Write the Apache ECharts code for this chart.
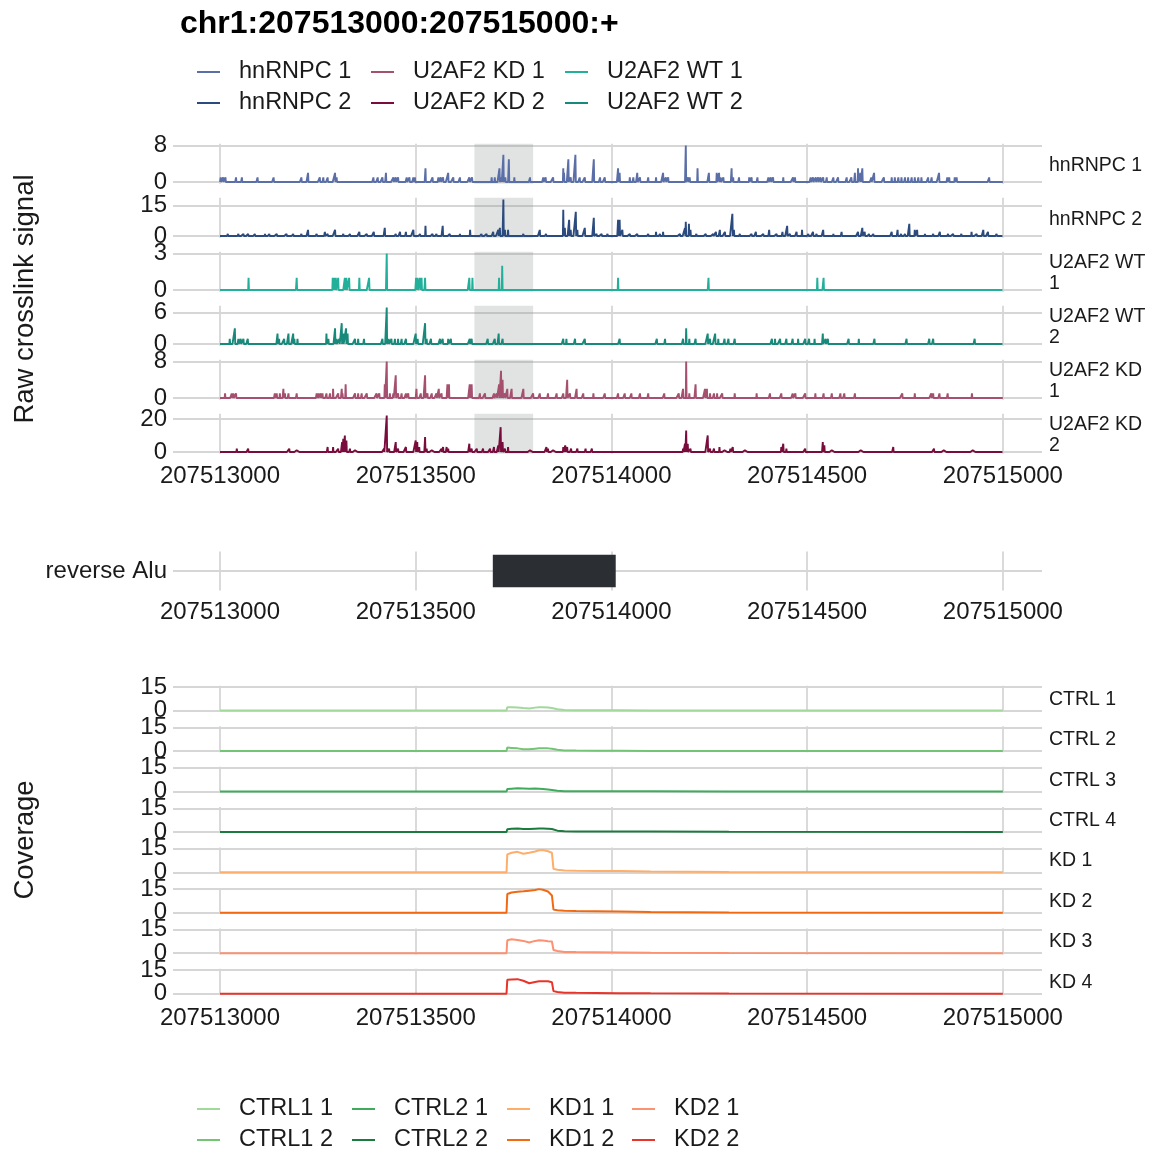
<!DOCTYPE html>
<html><head><meta charset="utf-8">
<script src="https://cdn.jsdelivr.net/npm/echarts@6/dist/echarts.min.js"></script>
<style>html,body{margin:0;padding:0;background:#fff}#c{width:1154px;height:1153px}</style>
</head><body><div id="c"></div>
<script>
// ---------------- data ----------------
const START = 207513000, END = 207515000;
const xTicks = [207513000, 207513500, 207514000, 207514500, 207515000];
const xMin = 207512880, xMax = 207515100;
const highlight = [207513650, 207513800];

const xlNames = ['hnRNPC 1','hnRNPC 2','U2AF2 WT 1','U2AF2 WT 2','U2AF2 KD 1','U2AF2 KD 2'];
const xlStrip = ['hnRNPC 1','hnRNPC 2','U2AF2 WT\n1','U2AF2 WT\n2','U2AF2 KD\n1','U2AF2 KD\n2'];
const xlTicks = [8, 15, 3, 6, 8, 20];
const xlColors = ['#5a6ea7','#2b4a7e','#22b09b','#178a7b','#a6506f','#790c3c'];

// crosslink counts: [offset from 207513000, count]; all other positions are 0
const hnRNPC1 = [[2,1],[8,1],[14,1],[41,1],[56,1],[96,1],[137,1],[208,1],[225,2],[255,1],[264,1],[275,1],[294,2],[298,1],[392,1],[403,1],[415,1],[424,2],[443,1],[449,1],[455,1],[477,1],[484,1],[494,1],[498,1],[525,3],[543,1],[558,1],[564,1],[570,1],[583,2],[596,1],[613,1],[637,1],[644,1],[694,1],[702,1],[714,3],[719,1],[724,6],[729,1],[738,5],[752,1],[792,1],[826,1],[832,1],[851,1],[877,3],[879,2],[890,5],[896,1],[908,6],[919,1],[932,1],[955,5],[971,1],[983,1],[1017,3],[1021,2],[1047,1],[1056,1],[1066,2],[1073,1],[1094,1],[1114,1],[1132,2],[1139,1],[1145,1],[1190,8],[1196,1],[1200,1],[1220,3],[1249,2],[1269,2],[1275,2],[1279,1],[1286,1],[1307,3],[1311,1],[1326,1],[1352,1],[1358,1],[1373,1],[1401,1],[1407,1],[1413,1],[1439,1],[1464,1],[1469,1],[1509,1],[1515,1],[1522,1],[1528,1],[1534,1],[1541,1],[1550,1],[1567,1],[1579,1],[1601,1],[1613,1],[1622,2],[1630,3],[1636,2],[1641,3],[1664,1],[1671,2],[1696,1],[1716,1],[1724,1],[1733,1],[1741,1],[1750,1],[1758,1],[1767,1],[1775,1],[1784,1],[1792,1],[1809,1],[1818,1],[1837,2],[1858,1],[1863,1],[1877,1],[1882,1],[1965,1]];
const hnRNPC2 = [[20,1],[47,1],[60,1],[72,1],[89,1],[115,1],[126,1],[145,1],[170,1],[187,1],[208,1],[225,3],[247,1],[268,2],[275,1],[294,3],[315,1],[332,1],[356,2],[375,1],[393,2],[421,4],[449,1],[460,2],[475,2],[494,3],[511,1],[525,5],[543,1],[553,1],[569,5],[587,1],[613,1],[639,3],[668,1],[681,1],[698,2],[711,3],[715,4],[724,18],[728,3],[736,3],[775,1],[817,3],[833,1],[877,13],[881,4],[892,8],[896,3],[909,12],[913,3],[932,4],[955,9],[962,1],[975,1],[990,1],[1017,8],[1021,8],[1028,3],[1047,1],[1066,1],[1094,1],[1114,2],[1124,1],[1132,2],[1175,1],[1188,4],[1190,7],[1198,6],[1202,3],[1217,1],[1241,1],[1260,1],[1267,2],[1277,3],[1290,2],[1309,11],[1313,3],[1328,1],[1358,1],[1369,2],[1388,1],[1403,3],[1422,1],[1437,2],[1449,5],[1456,1],[1473,2],[1487,3],[1503,1],[1515,2],[1524,1],[1541,3],[1567,1],[1588,2],[1630,2],[1641,4],[1647,2],[1658,1],[1669,1],[1716,2],[1731,3],[1740,1],[1750,1],[1761,6],[1775,3],[1781,3],[1801,1],[1822,1],[1839,2],[1860,1],[1873,1],[1894,1],[1920,2],[1933,1],[1950,3],[1962,2],[1984,1]];
const u2af2WT1 = [[73,1],[196,1],[288,1],[291,1],[296,1],[302,1],[319,1],[323,1],[330,1],[356,1],[381,1],[426,3],[501,1],[505,1],[511,1],[515,1],[524,1],[637,1],[645,1],[713,1],[721,2],[1017,1],[1248,1],[1526,1],[1542,1]];
const u2af2WT2 = [[25,1],[38,3],[47,1],[53,1],[60,1],[71,1],[147,2],[151,1],[164,1],[175,2],[187,2],[190,1],[198,1],[272,2],[277,1],[294,3],[298,1],[305,1],[311,4],[315,2],[322,3],[326,2],[345,1],[353,1],[368,1],[415,1],[426,7],[431,1],[438,1],[447,1],[455,1],[464,1],[475,1],[500,2],[505,1],[524,4],[528,1],[539,1],[562,1],[569,1],[583,1],[590,1],[638,1],[643,1],[684,1],[702,1],[712,2],[722,1],[877,1],[885,1],[907,1],[932,1],[1021,1],[1116,1],[1137,1],[1183,1],[1191,3],[1199,1],[1215,1],[1246,2],[1252,1],[1265,2],[1273,1],[1289,1],[1299,1],[1315,1],[1410,1],[1418,1],[1431,1],[1447,1],[1463,1],[1477,1],[1495,1],[1505,1],[1519,1],[1540,2],[1547,1],[1553,1],[1606,1],[1632,1],[1672,1],[1754,1],[1812,1],[1822,1],[1928,1]];
const u2af2KD1 = [[13,1],[30,1],[34,1],[41,1],[140,1],[145,1],[153,1],[162,2],[166,1],[175,1],[196,1],[247,1],[251,1],[257,1],[262,1],[272,1],[281,1],[289,2],[302,1],[311,2],[313,1],[321,3],[345,1],[353,1],[362,1],[375,1],[400,1],[407,1],[421,3],[426,8],[434,1],[443,1],[449,5],[455,1],[464,1],[475,1],[481,1],[502,2],[513,1],[524,5],[530,1],[541,1],[553,1],[559,2],[566,1],[581,3],[585,3],[638,3],[643,3],[664,1],[677,1],[700,1],[707,1],[713,3],[718,6],[722,4],[728,1],[734,2],[745,2],[775,2],[800,1],[817,1],[838,1],[860,1],[877,1],[887,4],[894,1],[911,2],[928,1],[954,1],[983,1],[1017,1],[1034,1],[1051,1],[1073,1],[1094,1],[1135,1],[1172,1],[1183,2],[1191,8],[1199,1],[1215,3],[1239,2],[1244,2],[1252,1],[1262,1],[1270,1],[1283,1],[1315,1],[1371,1],[1405,1],[1434,1],[1463,1],[1470,1],[1495,1],[1521,1],[1542,1],[1563,1],[1585,1],[1595,1],[1622,1],[1743,1],[1775,1],[1817,1],[1822,1],[1838,1],[1859,1],[1921,1]];
const u2af2KD2 = [[43,2],[55,1],[72,2],[89,1],[119,1],[149,1],[166,1],[177,2],[196,1],[213,1],[230,1],[255,1],[264,1],[275,3],[289,3],[302,2],[312,6],[315,8],[319,10],[323,7],[332,2],[345,1],[357,1],[375,1],[392,1],[409,1],[419,2],[426,22],[432,2],[438,1],[449,6],[455,2],[464,1],[475,3],[489,1],[500,7],[504,6],[509,3],[524,9],[528,2],[541,1],[566,2],[570,3],[579,3],[583,2],[600,1],[617,1],[637,5],[643,2],[656,2],[672,2],[690,2],[700,3],[711,4],[717,15],[722,6],[728,2],[736,3],[758,1],[765,1],[783,1],[792,1],[818,1],[834,3],[838,2],[851,1],[877,3],[882,4],[887,3],[897,2],[913,2],[934,2],[950,2],[971,1],[998,1],[1024,1],[1056,1],[1088,1],[1114,1],[1141,1],[1167,1],[1183,2],[1188,5],[1191,13],[1195,5],[1202,2],[1210,1],[1225,1],[1246,10],[1252,2],[1262,2],[1276,3],[1289,1],[1304,2],[1310,3],[1341,1],[1363,1],[1394,1],[1424,1],[1434,3],[1439,5],[1447,2],[1463,1],[1479,1],[1495,2],[1521,1],[1540,6],[1544,4],[1563,1],[1585,1],[1616,1],[1637,1],[1653,1],[1712,1],[1720,3],[1743,1],[1759,1],[1775,1],[1796,1],[1824,2],[1828,1],[1849,1],[1875,1],[1896,1],[1923,1],[1949,1],[1980,1]];
const xlData = [hnRNPC1, hnRNPC2, u2af2WT1, u2af2WT2, u2af2KD1, u2af2KD2];

// Alu annotation
const aluLabels = ['reverse Alu'];
const aluStart = [207513697];
const aluEnd = [207514011];

// coverage: breakpoint offsets and values per sample
const covNames = ['CTRL1 1','CTRL1 2','CTRL2 1','CTRL2 2','KD1 1','KD1 2','KD2 1','KD2 2'];
const covStrip = ['CTRL 1','CTRL 2','CTRL 3','CTRL 4','KD 1','KD 2','KD 3','KD 4'];
const covColors = ['#a1d99b','#74c476','#41ab5d','#1d7a3e','#fdae6b','#f16913','#fc9272','#e8352c'];
const covTick = 15;
const covPos = [0, 732, 734, 745, 760, 775, 790, 805, 815, 825, 838, 848, 852, 862, 880, 910, 960, 1020, 1100, 1300, 2000];
const ctrl1_1 = [0, 0, 2.1, 2.1, 2.0, 1.6, 1.3, 1.9, 2.1, 2.2, 2.0, 1.7, 1.3, 0.9, 0.4, 0.3, 0.3, 0.2, 0.1, 0.1, 0];
const ctrl1_2 = [0, 0, 2.2, 2.0, 1.7, 1.2, 1.1, 1.5, 1.7, 1.8, 1.7, 1.4, 1.0, 0.8, 0.4, 0.3, 0.2, 0.2, 0.1, 0.1, 0];
const ctrl2_1 = [0, 0, 1.5, 1.8, 2.0, 1.9, 1.7, 1.9, 1.8, 1.6, 1.3, 1.0, 0.8, 0.5, 0.2, 0.2, 0.1, 0.1, 0.1, 0.05, 0];
const ctrl2_2 = [0, 0, 1.7, 2.0, 2.1, 1.9, 1.8, 2.0, 2.1, 2.1, 2.0, 1.8, 1.2, 0.8, 0.4, 0.3, 0.3, 0.2, 0.2, 0.1, 0];
const kd1_1 = [0, 0, 11.4, 12.4, 13.0, 11.8, 12.4, 13.2, 14.0, 14.2, 13.4, 12.4, 2.2, 1.6, 1.2, 1.0, 0.9, 0.8, 0.5, 0.2, 0];
const kd1_2 = [0, 0, 11.9, 12.9, 13.3, 13.6, 14.0, 14.4, 15.0, 14.6, 13.5, 11.0, 2.0, 1.6, 1.3, 1.1, 1.0, 0.8, 0.5, 0.2, 0];
const kd2_1 = [0, 0, 8.2, 8.8, 8.4, 7.8, 6.8, 7.8, 8.2, 8.0, 7.6, 7.4, 2.0, 1.4, 0.8, 0.7, 0.6, 0.5, 0.3, 0.1, 0];
const kd2_2 = [0, 0, 8.8, 9.0, 9.2, 8.2, 6.6, 7.4, 7.8, 7.8, 7.8, 7.2, 1.6, 1.0, 0.6, 0.5, 0.4, 0.3, 0.2, 0.1, 0];
const covData = [ctrl1_1, ctrl1_2, ctrl2_1, ctrl2_2, kd1_1, kd1_2, kd2_1, kd2_2];

// ---------------- chart ----------------
const FONT = '"Liberation Sans", Arial, Helvetica, sans-serif';
const TXT = '#1a1a1a';
const GRID_COLOR = '#d6d6d6';
const PLOT_LEFT = 173, PLOT_W = 869;

function denseTrack(pairs){
  const arr = new Array(END - START + 1).fill(0);
  pairs.forEach(([p, v]) => { arr[p] = v; });
  return arr.map((v, i) => [START + i, v]);
}
const fmt = v => String(v);

const grids = [], xAxes = [], yAxes = [], series = [], graphics = [];
function gridMarkLine(yVals){
  return {
    silent: true, z: 1, symbol: ['none','none'], label: {show: false},
    lineStyle: {color: GRID_COLOR, width: 1.8, type: 'solid'},
    emphasis: {disabled: true},
    data: xTicks.map(v => ({xAxis: v})).concat(yVals.map(v => ({yAxis: v})))
  };
}
function addXAxis(gi, showLabels, margin){
  xAxes.push({
    type: 'value', gridIndex: gi, min: xMin, max: xMax,
    axisLine: {show: false}, axisTick: {show: false}, splitLine: {show: false},
    axisLabel: showLabels ? {customValues: xTicks, formatter: fmt, margin: margin, fontSize: 24, color: TXT, fontFamily: FONT, hideOverlap: false} : {show: false}
  });
}
// one y axis per tick label (so that ECharts never hides a crowded label); returns index of the first
function addYAxes(gi, lo, hi, labelVals, formatter){
  const first = yAxes.length;
  labelVals.forEach(v => {
    yAxes.push({
      type: 'value', gridIndex: gi, min: lo, max: hi, position: 'left', offset: 0,
      axisLine: {show: false}, axisTick: {show: false}, splitLine: {show: false},
      axisLabel: {customValues: [v], formatter: formatter || fmt, margin: 6, fontSize: 24,
        color: TXT, fontFamily: FONT, hideOverlap: false}
    });
  });
  return first;
}

// crosslink panels
const XL_TOP = 143.8, XL_STEP = 54, XL_H = 40;
xlData.forEach((pairs, i) => {
  const gi = grids.length;
  const top = XL_TOP + XL_STEP * i;
  grids.push({left: PLOT_LEFT, width: PLOT_W, top: top, height: XL_H, containLabel: false, outerBoundsMode: 'none'});
  addXAxis(gi, i === xlData.length - 1, 11);
  const m = Math.max(...pairs.map(p => p[1]));
  const yi = addYAxes(gi, -0.05 * m, 1.05 * m, [0, xlTicks[i]]);
  series.push({
    type: 'line', name: xlNames[i], xAxisIndex: gi, yAxisIndex: yi,
    data: denseTrack(pairs), showSymbol: false, symbol: 'none', z: 3,
    color: xlColors[i], lineStyle: {width: 1.9, color: xlColors[i]},
    emphasis: {disabled: true},
    markLine: gridMarkLine([0, xlTicks[i]]),
    markArea: {silent: true, z: 2, itemStyle: {color: 'rgba(140,146,146,0.26)'},
      data: [[{xAxis: highlight[0]}, {xAxis: highlight[1]}]]}
  });
  graphics.push({type: 'text', left: 1049, top: top + XL_H / 2 - (xlStrip[i].includes('\n') ? 20 : 9),
    style: {text: xlStrip[i], fontSize: 19.5, lineHeight: 21, fill: TXT, fontFamily: FONT}});
});

// Alu panel
{
  const gi = grids.length;
  grids.push({left: PLOT_LEFT, width: PLOT_W, top: 551.5, height: 39, containLabel: false, outerBoundsMode: 'none'});
  addXAxis(gi, true, 10);
  const yi = addYAxes(gi, 0.4, 1.6, [1], v => aluLabels[Math.round(v) - 1]);
  series.push({
    type: 'custom', name: 'Alu', xAxisIndex: gi, yAxisIndex: yi, z: 3,
    data: aluStart.map((s, k) => [s, aluEnd[k], k + 1]),
    encode: {x: [0, 1], y: 2},
    renderItem: (params, api) => {
      const p0 = api.coord([api.value(0), api.value(2) + 0.5]);
      const p1 = api.coord([api.value(1), api.value(2) - 0.5]);
      return {type: 'rect', shape: {x: p0[0], y: p0[1], width: p1[0] - p0[0], height: p1[1] - p0[1]}, style: {fill: '#2b2e33'}};
    },
    markLine: gridMarkLine([1])
  });
}

// coverage panels
const COV_TOP = 685.8, COV_STEP = 40.43, COV_H = 26;
const covMax = Math.max(...covData.map(a => Math.max(...a)));
covData.forEach((vals, i) => {
  const gi = grids.length;
  const top = COV_TOP + COV_STEP * i;
  grids.push({left: PLOT_LEFT, width: PLOT_W, top: top, height: COV_H, containLabel: false, outerBoundsMode: 'none'});
  addXAxis(gi, i === covData.length - 1, 12);
  const yi = addYAxes(gi, -0.05 * covMax, 1.05 * covMax, [0, covTick]);
  series.push({
    type: 'line', name: covNames[i], xAxisIndex: gi, yAxisIndex: yi,
    data: covPos.map((p, k) => [START + p, vals[k]]), showSymbol: false, symbol: 'none', z: 3,
    color: covColors[i], lineStyle: {width: 2, color: covColors[i]},
    emphasis: {disabled: true},
    markLine: gridMarkLine([0, covTick])
  });
  graphics.push({type: 'text', left: 1049, top: top + COV_H / 2 - 10,
    style: {text: covStrip[i], fontSize: 19.5, lineHeight: 21, fill: TXT, fontFamily: FONT}});
});

// axis titles
graphics.push({type: 'text', x: 25, y: 299, rotation: Math.PI / 2,
  style: {text: 'Raw crosslink signal', fontSize: 27.5, fill: TXT, fontFamily: FONT, align: 'center', verticalAlign: 'middle'}});
graphics.push({type: 'text', x: 25, y: 840, rotation: Math.PI / 2,
  style: {text: 'Coverage', fontSize: 27.5, fill: TXT, fontFamily: FONT, align: 'center', verticalAlign: 'middle'}});

// legends
function mkLegend(names, left, top){
  return {
    data: names, left: left, top: top, orient: 'vertical', padding: 0,
    icon: 'rect', itemWidth: 23, itemHeight: 2, itemGap: 7, selectedMode: false,
    textStyle: {fontSize: 23.5, lineHeight: 24, color: TXT, fontFamily: FONT, padding: [0, 0, 0, 14]}
  };
}
const legends = [
  mkLegend(['hnRNPC 1','hnRNPC 2'], 197, 60),
  mkLegend(['U2AF2 KD 1','U2AF2 KD 2'], 371, 60),
  mkLegend(['U2AF2 WT 1','U2AF2 WT 2'], 565, 60),
  mkLegend(['CTRL1 1','CTRL1 2'], 197, 1097),
  mkLegend(['CTRL2 1','CTRL2 2'], 352, 1097),
  mkLegend(['KD1 1','KD1 2'], 507, 1097),
  mkLegend(['KD2 1','KD2 2'], 632, 1097)
];

const chart = echarts.init(document.getElementById('c'), null, {renderer: 'canvas'});
chart.setOption({
  animation: false,
  backgroundColor: '#ffffff',
  title: {text: 'chr1:207513000:207515000:+', left: 180, top: 8, padding: 0,
    textStyle: {fontSize: 32, fontWeight: 'bold', color: '#000', fontFamily: FONT}},
  legend: legends,
  grid: grids, xAxis: xAxes, yAxis: yAxes, series: series,
  graphic: graphics
});
</script></body></html>
